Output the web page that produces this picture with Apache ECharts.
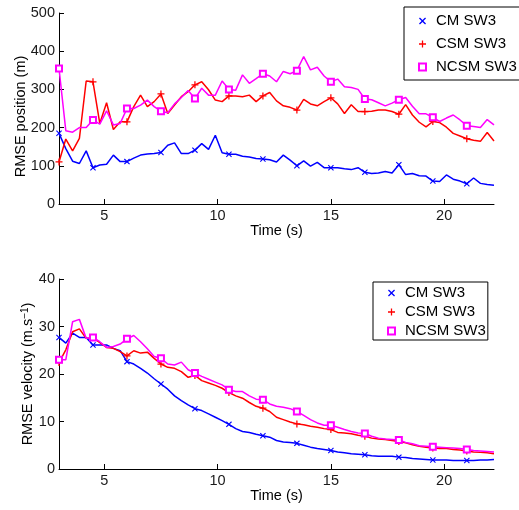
<!DOCTYPE html>
<html>
<head>
    <meta charset="utf-8">
    <title>RMSE position / velocity</title>
    <style>
        html,body{margin:0;padding:0;background:#fff;}
    </style>
</head>
<body>
<div id="main" style="width:519px;height:510px;"></div>
<script src="https://cdn.jsdelivr.net/npm/echarts@6/dist/echarts.min.js"></script>
<script type="text/javascript">
    // time stamps (s)
    var time = [3.0,3.3,3.6,3.9,4.2,4.5,4.8,5.1,5.4,5.7,6.0,6.3,6.6,6.9,7.2,7.5,7.8,8.1,8.4,8.7,
        9.0,9.3,9.6,9.9,10.2,10.5,10.8,11.1,11.4,11.7,12.0,12.3,12.6,12.9,13.2,13.5,13.8,14.1,14.4,14.7,
        15.0,15.3,15.6,15.9,16.2,16.5,16.8,17.1,17.4,17.7,18.0,18.3,18.6,18.9,19.2,19.5,19.8,20.1,20.4,20.7,
        21.0,21.3,21.6,21.9,22.2];
    var xTicks = [5, 10, 15, 20];
    var names = ['CM SW3', 'CSM SW3', 'NCSM SW3'];

    // RMSE position (m)
    var posCM = [185,145,112,106,139, 95,102,104,128,111, 111,120,128,131,132, 135,154,160,132,132,
        141,158,143,180,134, 130,130,125,123,119, 118,116,110,128,115, 100,113,99,109,95,
        95,95,92,90,95, 83,80,81,85,81, 103,77,80,74,73, 60,59,76,65,60, 53,68,54,51,49];
    var posCSM = [110,170,139,172,322, 320,211,265,195,215, 215,255,285,255,268, 288,237,259,281,294,
        312,320,299,272,268, 283,283,281,285,268, 283,292,270,257,253, 246,274,262,257,268,
        278,262,237,260,242, 242,243,246,246,242, 235,260,233,214,202, 216,213,201,185,178,
        171,167,164,187,165];
    var posNCSM = [355,192,188,200,200, 220,209,244,207,211, 250,250,259,272,255, 243,239,262,279,297,
        276,303,285,285,322, 300,298,338,316,328, 341,335,320,347,341, 349,386,351,358,335,
        320,327,307,305,300, 275,273,265,257,264, 273,279,256,236,236, 227,216,225,233,220,
        205,203,200,221,207];

    // RMSE velocity (m/s)
    var velCM = [27.7,26.5,28.6,27.7,27.7, 26.1,26.1,26.1,25.4,24.9, 22.6,22.1,21.2,20.2,19.0,
        17.9,16.8,15.4,14.4,13.5, 12.7,12.3,11.6,10.9,10.2, 9.4,8.5,7.9,7.7,7.3,
        7.0,6.7,6.0,5.7,5.6, 5.4,5.0,4.6,4.3,4.1, 3.9,3.6,3.4,3.2,3.1, 3.0,2.8,2.7,2.7,2.7,
        2.5,2.4,2.2,2.1,2.0, 1.9,1.9,1.9,1.8,1.8, 1.8,1.8,1.9,1.9,2.0];
    var velCSM = [22.4,25.1,28.9,29.5,27.5, 27.7,26.6,25.6,25.4,24.7, 23.8,24.9,24.4,24.6,23.3,
        22.1,21.4,21.2,20.5,19.3, 19.7,18.6,18.1,17.6,17.0, 16.1,15.4,14.9,14.0,13.2,
        12.8,12.1,10.9,10.4,9.9, 9.5,9.3,9.0,8.8,8.5, 8.3,7.7,7.6,7.4,7.1, 6.9,6.5,6.3,6.2,6.0,
        5.8,5.5,5.1,4.8,4.6, 4.4,4.3,4.3,4.1,4.0, 3.8,3.6,3.5,3.4,3.2];
    var velNCSM = [23.0,23.0,31.0,31.5,27.5, 27.7,26.8,25.6,25.8,26.3, 27.4,28.1,26.8,25.3,23.7,
        23.3,22.1,21.9,22.5,20.9, 20.2,19.5,18.9,18.3,17.7, 16.7,16.3,16.3,15.4,14.7,
        14.6,13.7,13.2,13.0,12.7, 12.1,11.3,10.4,9.7,9.2, 9.2,8.8,8.3,7.9,7.6, 7.5,6.9,6.5,6.3,6.2,
        6.1,5.6,5.3,4.9,4.8, 4.7,4.6,4.5,4.4,4.3, 4.1,3.9,3.8,3.7,3.6];

    var FONT = '"Liberation Sans", Arial, Helvetica, sans-serif';
    var colors = ['#0000ff', '#ff0000', '#ff00ff'];
    var xSym = 'path://M0,1.3L3.7,5L5,3.7L1.3,0L5,-3.7L3.7,-5L0,-1.3L-3.7,-5L-5,-3.7L-1.3,0L-5,3.7L-3.7,5Z';
    var plusSym = 'path://M-0.9,-5H0.9V-0.9H5V0.9H0.9V5H-0.9V0.9H-5V-0.9H-0.9Z';
    var symbols = [xSym, plusSym, 'emptyRect'];
    var symSizes = [6, 7, 6];

    // marker on every 5th sample, plain line elsewhere
    function build(vals, k) {
        return time.map(function (t, i) {
            return {value: [t, vals[i]], symbol: i % 5 === 0 ? symbols[k] : 'none'};
        });
    }

    function lineSeries(vals, k, idx) {
        return {
            name: names[k],
            type: 'line',
            xAxisIndex: idx,
            yAxisIndex: idx,
            data: build(vals, k),
            showAllSymbol: true,
            symbolSize: symSizes[k],
            lineStyle: {color: colors[k], width: 1.5},
            itemStyle: {color: colors[k], borderWidth: 1.2},
            emphasis: {disabled: true},
            z: 2 + k
        };
    }

    function xAxis(idx) {
        return {
            type: 'value', gridIndex: idx, min: 3, max: 22.2,
            name: 'Time (s)', nameLocation: 'middle', nameGap: 19,
            nameTextStyle: {color: '#000', fontSize: 14.5, fontFamily: FONT},
            axisLine: {lineStyle: {color: '#000', width: 1}},
            axisTick: {inside: true, length: 5, customValues: xTicks, lineStyle: {color: '#000'}},
            axisLabel: {customValues: xTicks, color: '#1a1a1a', fontSize: 14.5, fontFamily: FONT, margin: 4},
            splitLine: {show: false}
        };
    }

    function yAxis(idx, max, interval, name, gap, pad) {
        return {
            type: 'value', gridIndex: idx, min: 0, max: max, interval: interval,
            name: name, nameLocation: 'middle', nameGap: gap, nameMoveOverlap: false,
            nameTextStyle: {
                color: '#000', fontSize: 14.5, fontFamily: FONT, padding: pad,
                rich: {sup: {fontSize: 10, fontFamily: FONT, color: '#000', verticalAlign: 'top'}}
            },
            axisLine: {show: true, lineStyle: {color: '#000', width: 1}},
            axisTick: {show: true, inside: true, length: 5, lineStyle: {color: '#000'}},
            axisLabel: {color: '#1a1a1a', fontSize: 14.5, fontFamily: FONT, margin: 4},
            splitLine: {show: false}
        };
    }

    function legend(left, top, gap, lh, pad) {
        return {
            left: left, top: top, orient: 'vertical',
            itemWidth: 7, itemHeight: 7, itemGap: gap,
            padding: pad,
            backgroundColor: '#fff', borderColor: '#000', borderWidth: 1, borderRadius: 0,
            selectedMode: false,
            textStyle: {color: '#000', fontSize: 15, fontFamily: FONT, lineHeight: lh, padding: [0, 0, 0, 5]},
            data: [
                {name: names[0], icon: xSym},
                {name: names[1], icon: plusSym},
                {name: names[2], icon: 'emptyRect'}
            ]
        };
    }

    var chart = echarts.init(document.getElementById('main'));
    chart.setOption({
        animation: false,
        backgroundColor: '#fff',
        grid: [
            {left: 59, top: 13, width: 435, height: 191},
            {left: 59, top: 279, width: 435, height: 190}
        ],
        xAxis: [xAxis(0), xAxis(1)],
        yAxis: [
            yAxis(0, 500, 100, 'RMSE position (m)', 31, [0, 16, 0, 0]),
            yAxis(1, 40, 10, 'RMSE velocity (m.s{sup|−1})', 24, [0, 0, 0, 0])
        ],
        legend: [
            legend(404, 7, 5, 18, [5, 30, 4, 14]),
            legend(373, 282, 3, 16, [3, 2, 1, 14])
        ],
        series: [
            lineSeries(posCM, 0, 0), lineSeries(posCSM, 1, 0), lineSeries(posNCSM, 2, 0),
            lineSeries(velCM, 0, 1), lineSeries(velCSM, 1, 1), lineSeries(velNCSM, 2, 1)
        ]
    });
</script>
</body>
</html>
